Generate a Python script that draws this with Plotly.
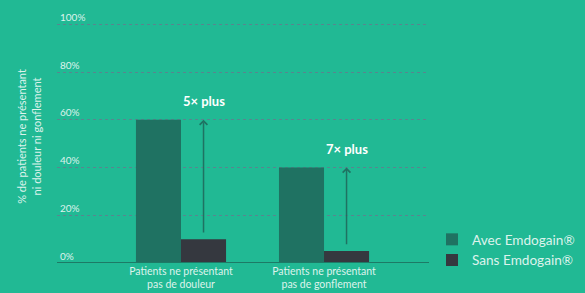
import plotly.graph_objects as go

categories = ["Patients ne présentant<br>pas de douleur", "Patients ne présentant<br>pas de gonflement"]
avec_values = [60, 40]
sans_values = [10, 5]
series_names = ["Avec Emdogain®", "Sans Emdogain®"]
ratio_labels = ["5× plus", "7× plus"]
y_ticks = [0, 20, 40, 60, 80, 100]
y_ticktext = ["0%", "20%", "40%", "60%", "80%", "100%"]

BG = "#21B994"
AVEC = "#1F7262"
SANS = "#35383F"
TXT = "#DDF3EC"
FONT = "Lato"

bargap = 0.37
fig = go.Figure()
fig.add_trace(go.Bar(x=categories, y=avec_values, name=series_names[0], marker_color=AVEC,
                     marker_line_width=0))
fig.add_trace(go.Bar(x=categories, y=sans_values, name=series_names[1], marker_color=SANS,
                     marker_line_width=0))

offset = (1 - bargap) / 4
for i, (a, s, lab) in enumerate(zip(avec_values, sans_values, ratio_labels)):
    fig.add_annotation(x=i + offset, y=a, ax=i + offset, ay=s + 2.2,
                       xref="x", yref="y", axref="x", ayref="y",
                       showarrow=True, arrowhead=4, arrowsize=1, arrowwidth=1.5,
                       arrowcolor=AVEC, text="")
    fig.add_annotation(x=i + offset, y=a + 3.5, xref="x", yref="y", showarrow=False,
                       text=f"<b>{lab}</b>", yanchor="bottom",
                       font=dict(family=FONT, size=13, color="#FFFFFF"))

fig.update_layout(
    width=585, height=293,
    paper_bgcolor=BG, plot_bgcolor=BG,
    barmode="group", bargap=bargap, bargroupgap=0,
    margin=dict(l=57, r=156, t=10, b=30),
    font=dict(family=FONT, color=TXT, size=10),
    showlegend=True,
    legend=dict(xref="container", yref="container", x=432 / 585, y=1 - 224 / 293,
                xanchor="left", yanchor="top", bgcolor="rgba(0,0,0,0)",
                font=dict(family=FONT, size=13.6, color=TXT), itemwidth=30,
                tracegroupgap=0),
)
fig.update_xaxes(range=[-0.867, 1.734], showgrid=False, ticks="", showline=False,
                 tickfont=dict(family=FONT, size=10.5, color=TXT), automargin=False)
fig.update_yaxes(range=[0, 106], tickvals=y_ticks, ticktext=y_ticktext,
                 ticklabelposition="inside", ticklabelshift=-7, ticklabelstandoff=0,
                 showgrid=True, gridcolor="rgba(125,100,140,0.6)", griddash="dot", gridwidth=1,
                 zeroline=False, showline=False, automargin=False,
                 tickfont=dict(family=FONT, size=10, color=TXT),
                 title=dict(text="% de patients ne présentant<br>ni douleur ni gonflement",
                            font=dict(family=FONT, size=11, color=TXT), standoff=16))
fig.add_shape(type="line", xref="paper", yref="y", x0=0, x1=1, y0=0, y1=0,
              line=dict(color="#1D7A66", width=2), layer="above")

fig.write_html("out.html", config={"displayModeBar": False},
               post_script="document.body.style.margin='0';document.body.style.background='" + BG + "';")
